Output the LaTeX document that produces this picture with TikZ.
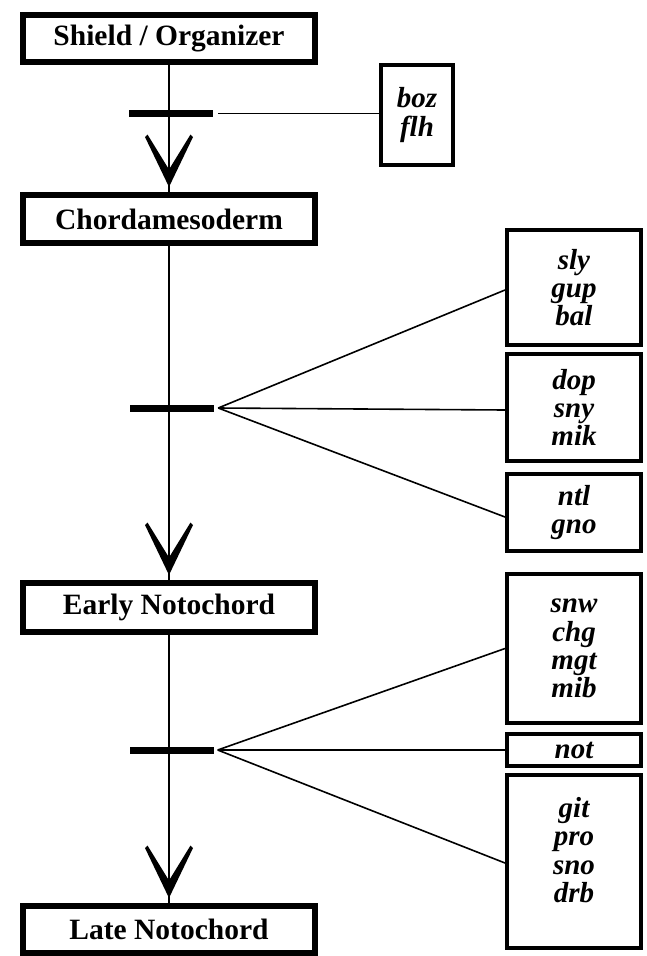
\documentclass[tikz,border=0pt]{standalone}
\usepackage{fontspec}
\setmainfont{Liberation Serif}
\begin{document}
\begin{tikzpicture}[x=1pt,y=-1pt,
  mainbox/.style={draw=black,line width=6pt,minimum width=292pt,inner sep=0pt,
    font=\fontsize{29.5pt}{28.3pt}\selectfont\bfseries},
  genebox/.style={draw=black,line width=4pt,inner sep=0pt,align=center,
    font=\fontsize{29pt}{28.3pt}\selectfont\bfseries\itshape},
  genetext/.style={inner sep=0pt,align=center,
    font=\fontsize{29pt}{28.3pt}\selectfont\bfseries\itshape},
  barnode/.style={fill=black,draw=none,minimum width=84pt,minimum height=7pt,inner sep=0pt},
  flow/.style={line width=2pt},
  chevron/.style={fill=black,draw=none},
  link/.style={line width=1.6pt}]
\useasboundingbox (0,0) rectangle (646,956);
% main boxes
\node[mainbox,minimum height=47pt] (shield) at (169,38.5) {Shield / Organizer};
\node[mainbox,minimum height=48pt] (chord) at (169,219) {Chordamesoderm};
\node[mainbox,minimum height=49pt] (early) at (169,607.5) {Early Notochord};
\node[mainbox,minimum height=47pt] (late) at (169,929.5) {Late Notochord};
% flow lines
\draw[flow] (shield.south) -- (chord.north);
\draw[flow] (chord.south) -- (early.north);
\draw[flow] (early.south) -- (late.north);
% chevron arrow heads
\coordinate (t1) at ([yshift=5pt]chord.north);
\coordinate (t2) at ([yshift=5pt]early.north);
\coordinate (t3) at ([yshift=5pt]late.north);
\foreach \t in {t1,t2,t3}{
  \fill[chevron] (\t) -- ++(-24,-50) -- ++(2.5,-2.5) -- ++(21.5,35) -- ++(21.5,-35) -- ++(2.5,2.5) -- cycle;
}
% bars
\node[barnode] (b1) at (171,113.5) {};
\node[barnode] (b2) at (172,408) {};
\node[barnode] (b3) at (171.5,750) {};
% gene boxes
\node[genebox,minimum width=72pt,minimum height=100pt] (boz) at (417,115) {boz\\flh};
\node[genebox,minimum width=134pt,minimum height=115pt] (sly) at (574,287.5) {sly\\gup\\bal};
\node[genebox,minimum width=134pt,minimum height=107pt] (dop) at (574,407.5) {dop\\sny\\mik};
\node[genebox,minimum width=134pt,minimum height=77pt] (ntl) at (574,512.5) {ntl\\gno};
\node[genebox,minimum width=134pt,minimum height=149pt] (snw) at (574,648.5) {snw\\chg\\mgt\\mib};
\node[genebox,minimum width=134pt,minimum height=32pt] (not) at (574,750) {not};
\node[genebox,minimum width=134pt,minimum height=173pt] (git) at (574,861.5) {};
\node[genetext] (gittext) at (574,850) {git\\pro\\sno\\drb};
% links
\draw[link,shorten <=5pt] (b1.east) -- (b1.east -| boz.west);
\coordinate (f2) at ([xshift=4pt]b2.east);
\draw[link] (f2) -- ([yshift=-2.5pt]sly.west);
\draw[link] (f2) -- ([yshift=-2.5pt]dop.west);
\draw[link] (f2) -- ([yshift=-4.5pt]ntl.west);
\coordinate (f3) at ([xshift=4pt]b3.east);
\draw[link] (f3) -- (snw.west);
\draw[link] (f3) -- (not.west);
\draw[link] (f3) -- ([yshift=-1.5pt]git.west);
\end{tikzpicture}
\end{document}
